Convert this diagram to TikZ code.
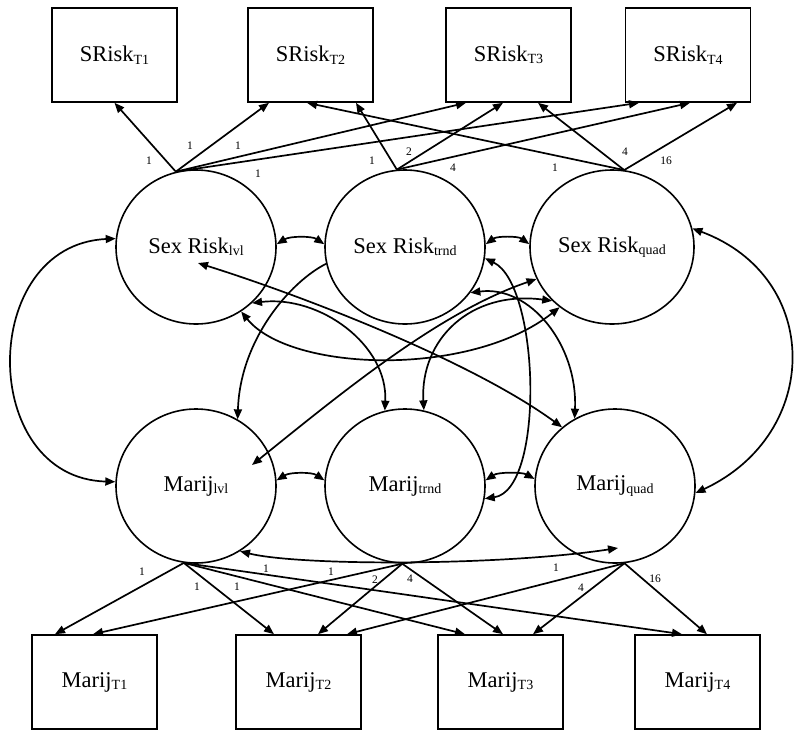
\documentclass[tikz,border=0pt]{standalone}
\usepackage{fontspec}
\setmainfont{Liberation Serif}
\usetikzlibrary{arrows.meta,shapes.geometric}
\newcommand{\subx}[1]{\raisebox{-2.5pt}{\fontsize{14}{14}\selectfont #1}}
\begin{document}
\begin{tikzpicture}[x=1pt,y=-1pt,
  every node/.style={font=\fontsize{22.5}{26}\selectfont},
  obs/.style={draw,line width=1.6pt,minimum width=125pt,minimum height=94pt,inner sep=0pt},
  lat/.style={draw,ellipse,line width=1.6pt,minimum width=160pt,minimum height=154pt,inner sep=0pt},
  load/.style={line width=1.7pt,-{Triangle[length=10pt,width=8pt]}},
  cov/.style={line width=1.7pt,{Triangle[length=10pt,width=8pt]}-{Triangle[length=10pt,width=8pt]}},
  lab/.style={font=\fontsize{11.5}{12}\selectfont,inner sep=0pt},
]
\useasboundingbox (0,0) rectangle (800,739);
% observed
\node[obs] (sr1) at (114.5,55) {SRisk\subx{T1}};
\node[obs] (sr2) at (310.5,55) {SRisk\subx{T2}};
\node[obs] (sr3) at (508.5,55) {SRisk\subx{T3}};
\node[obs] (sr4) at (688,55) {SRisk\subx{T4}};
\node[obs] (m1) at (94.5,682) {Marij\subx{T1}};
\node[obs] (m2) at (298.5,682) {Marij\subx{T2}};
\node[obs] (m3) at (500.5,682) {Marij\subx{T3}};
\node[obs] (m4) at (697.5,682) {Marij\subx{T4}};
% latent
\node[lat] (slvl) at (196,247) {Sex Risk\subx{lvl}};
\node[lat] (strnd) at (405,247) {Sex Risk\subx{trnd}};
\node[lat,minimum width=164pt] (squad) at (612,247) {Sex Risk\subx{quad}};
\node[lat] (mlvl) at (196,486) {Marij\subx{lvl}};
\node[lat] (mtrnd) at (405,486) {Marij\subx{trnd}};
\node[lat] (mquad) at (615,486) {Marij\subx{quad}};
% top loadings
\draw[load] (slvl.105) -- (sr1.south);
\draw[load] (slvl.105) -- ([xshift=-41.5pt]sr2.south);
\draw[load] (slvl.105) -- ([xshift=-42.5pt]sr3.south);
\draw[load] (slvl.105) -- ([xshift=-49pt]sr4.south);
\draw[load] (strnd.96) -- ([xshift=45.5pt]sr2.south);
\draw[load] (strnd.96) -- ([xshift=-5.5pt]sr3.south);
\draw[load] (strnd.96) -- ([xshift=2pt]sr4.south);
\draw[load] (squad.81) -- ([xshift=-3.5pt]sr2.south);
\draw[load] (squad.81) -- ([xshift=29.5pt]sr3.south);
\draw[load] (squad.81) -- ([xshift=49pt]sr4.south);
% bottom loadings
\draw[load] (mlvl.261) -- ([xshift=-39.5pt]m1.north);
\draw[load] (mlvl.261) -- ([xshift=-24.5pt]m2.north);
\draw[load] (mlvl.261) -- ([xshift=-35.5pt]m3.north);
\draw[load] (mlvl.261) -- ([xshift=-15.5pt]m4.north);
\draw[load] (mtrnd.268) -- ([xshift=-1.5pt]m1.north);
\draw[load] (mtrnd.268) -- ([xshift=19.5pt]m2.north);
\draw[load] (mtrnd.268) -- ([xshift=2.5pt]m3.north);
\draw[load] (mquad.277) -- ([xshift=48.5pt]m2.north);
\draw[load] (mquad.277) -- ([xshift=32.5pt]m3.north);
\draw[load] (mquad.277) -- ([xshift=9.5pt]m4.north);
% labels top
\node[lab] (t1) at (149,161) {1};
\node[lab] (t2) at (190,146) {1};
\node[lab] (t3) at (238,146) {1};
\node[lab] (t4) at (258,174) {1};
\node[lab] (t5) at (372,161) {1};
\node[lab] (t6) at (409,152) {2};
\node[lab] (t7) at (453,168) {4};
\node[lab] (t8) at (555,168) {1};
\node[lab] (t9) at (625,152) {4};
\node[lab] (t10) at (666,161) {16};
% labels bottom
\node[lab] (b1) at (142,572) {1};
\node[lab] (b2) at (197,587) {1};
\node[lab] (b3) at (237,587) {1};
\node[lab] (b4) at (266,569) {1};
\node[lab] (b5) at (331,572) {1};
\node[lab] (b6) at (375,580) {2};
\node[lab] (b7) at (410,579) {4};
\node[lab] (b8) at (556,568) {1};
\node[lab] (b9) at (581,588) {4};
\node[lab] (b10) at (655,579) {16};
% covariances
\draw[cov] (slvl.174) .. controls (-22,245) and (-22,478) .. (mlvl.177);
\draw[cov] (squad.13) .. controls (823,277) and (822,434) .. (mquad.355);
\draw[cov] (slvl.2) .. controls (290,236) and (312,236) .. (strnd.178);
\draw[cov] (strnd.2) .. controls (497,236) and (518,236) .. (squad.178);
\draw[cov] (mlvl.4) .. controls (290,472) and (312,472) .. (mtrnd.176);
\draw[cov] (mtrnd.4) .. controls (498,472) and (522,472) .. (mquad.175);
\draw[load] (strnd.192) .. controls (290,282) and (240,340) .. (mlvl.58);
\draw[cov] (slvl.315) .. controls (320,295) and (388,345) .. (mtrnd.105);
\draw[cov] (slvl.305) .. controls (290,372) and (470,378) .. (squad.229);
\draw[cov] (strnd.325) .. controls (530,285) and (578,345) .. (mquad.121);
\draw[cov] (squad.222) .. controls (470,290) and (420,340) .. (mtrnd.76);
\draw[cov] ([xshift=56pt,yshift=21pt]mlvl.center) .. controls (345,390) and (440,312) .. (squad.203);
\draw[cov] ([xshift=2pt,yshift=-16pt]slvl.center) .. controls (300,295) and (470,360) .. (mquad.132);
\draw[cov] (strnd.352) .. controls (540,285) and (545,490) .. (mtrnd.351);
\draw[cov] (mlvl.304) .. controls (300,566) and (500,566) .. ([xshift=3pt,yshift=-62pt]mquad.center);
\end{tikzpicture}
\end{document}
